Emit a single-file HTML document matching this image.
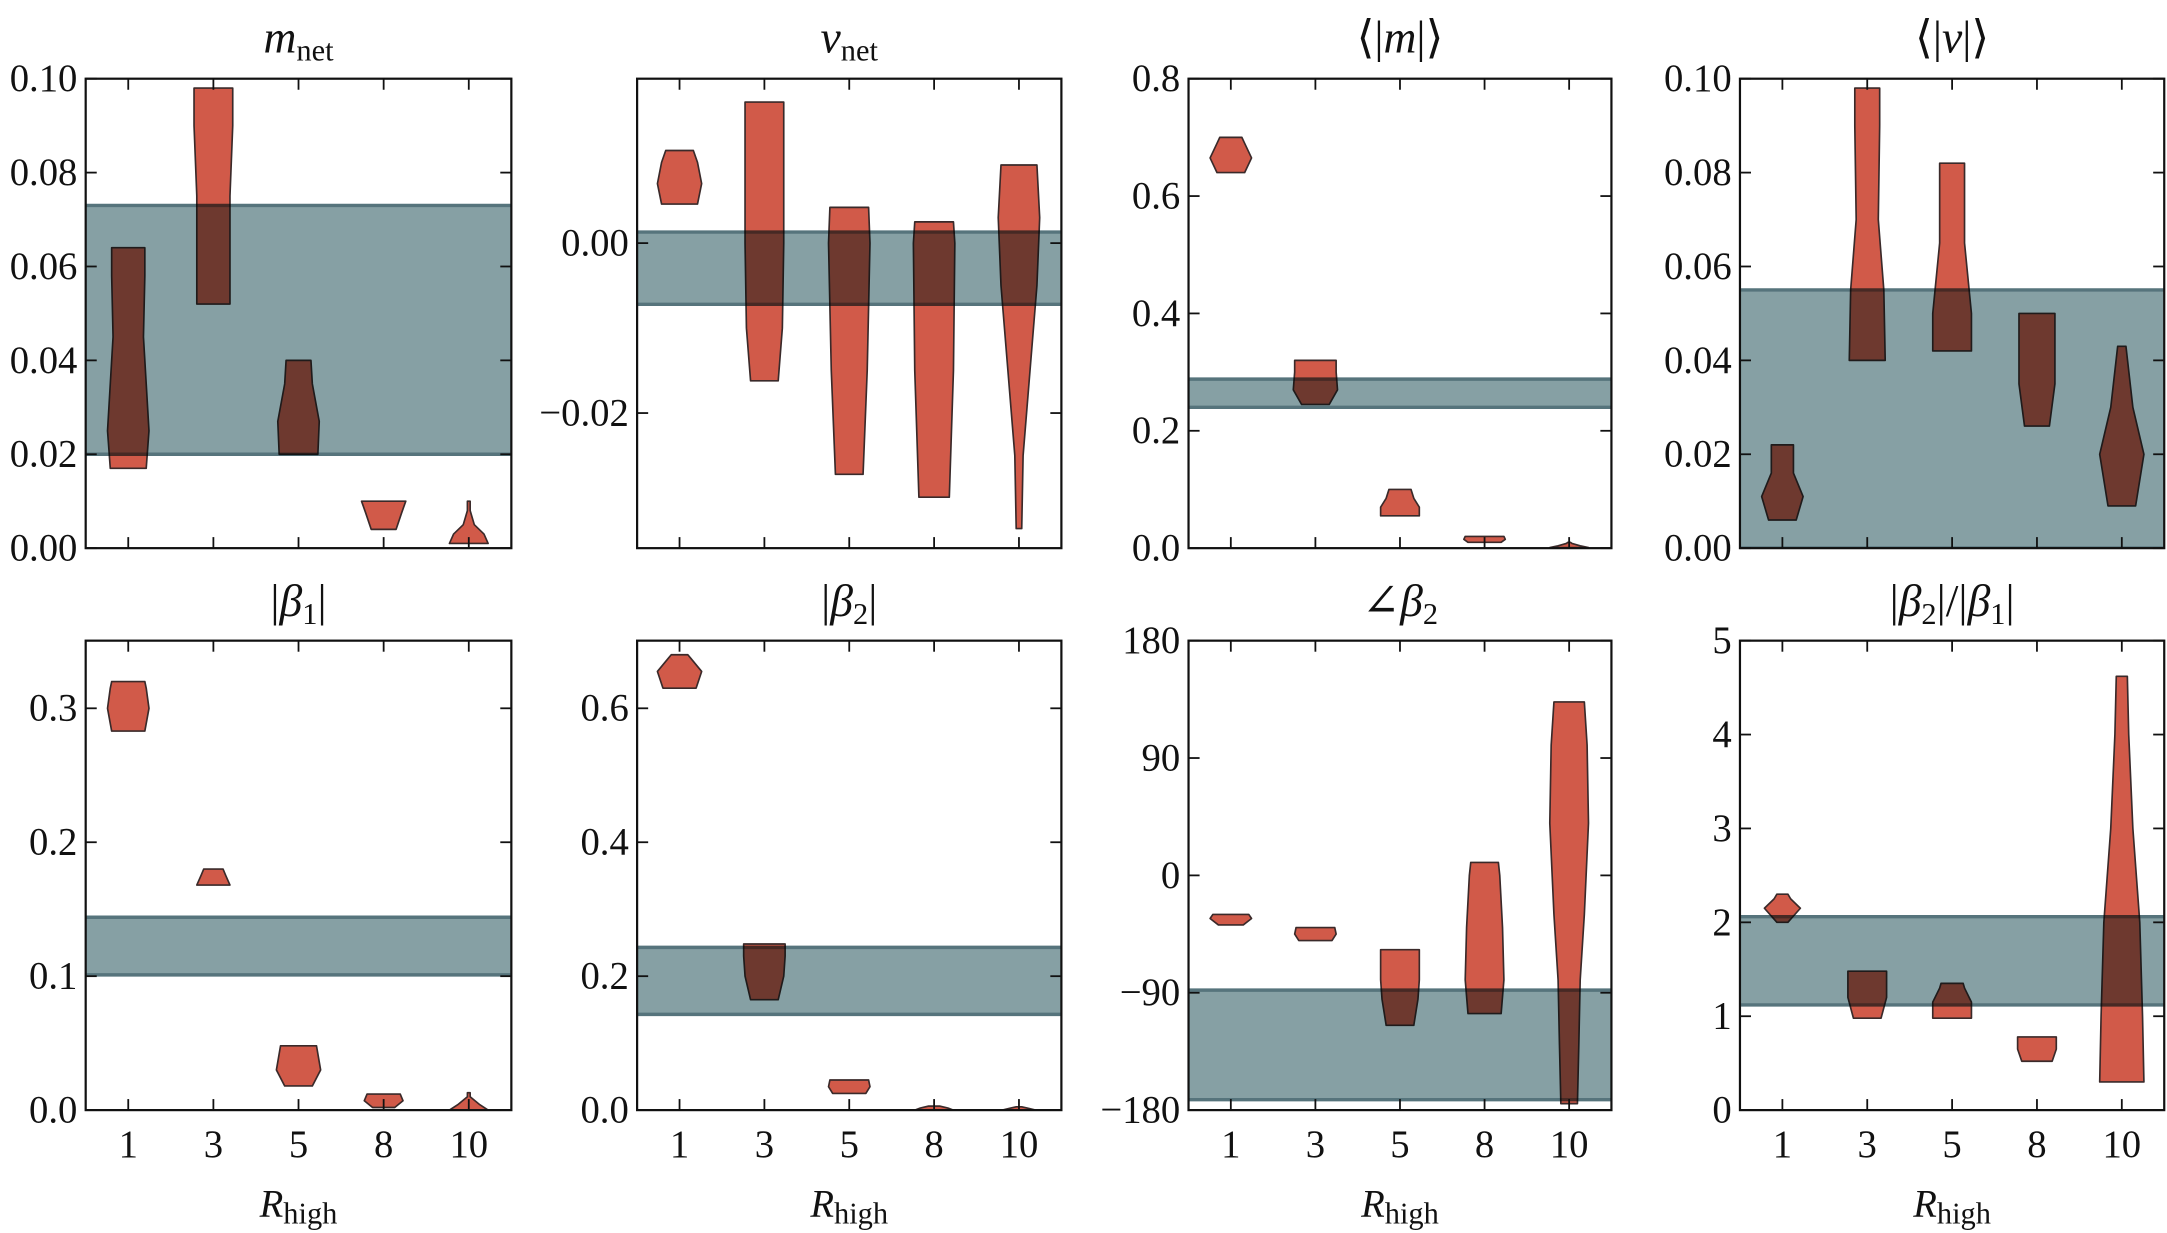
<!DOCTYPE html>
<html><head><meta charset="utf-8"><style>
html,body{margin:0;padding:0;background:#fff;}
svg{display:block;}
text{font-family:"Liberation Serif","DejaVu Serif",serif;fill:#111;}
.band{mix-blend-mode:multiply;}
</style></head><body>
<svg id="s" width="2167" height="1233" viewBox="0 0 1568 893" preserveAspectRatio="none" xmlns="http://www.w3.org/2000/svg"></svg>
<script>
var S=document.getElementById('s');var out='<rect x="0" y="0" width="1568" height="893" fill="#fff"/>';
var cols=[[62,370],[461,768],[860,1166],[1259,1566]];
var rows=[[57,397],[464,804]];
var P=[
{c:0,r:0,t:'<tspan font-style="italic">m</tspan><tspan font-size="22" dy="6">net</tspan>',lo:0,hi:0.1,ticks:[[0,'0.00'],[0.02,'0.02'],[0.04,'0.04'],[0.06,'0.06'],[0.08,'0.08'],[0.1,'0.10']],band:[0.020,0.073],
 v:[[[0.017,13],[0.025,15],[0.035,13],[0.045,11],[0.058,12],[0.064,12]],[[0.052,12],[0.075,12],[0.09,14],[0.098,14]],[[0.02,14],[0.027,15],[0.035,10],[0.04,9]],[[0.004,9],[0.0075,13],[0.010,16]],[[0.001,14],[0.003,11],[0.005,4],[0.008,1],[0.010,1]]]},
{c:1,r:0,t:'<tspan font-style="italic">v</tspan><tspan font-size="22" dy="6">net</tspan>',lo:-0.0359,hi:0.01935,ticks:[[0,'0.00'],[-0.02,'\u22120.02']],band:[-0.0072,0.0013],
 v:[[[0.0046,13],[0.007,16],[0.0095,13],[0.0109,10]],[[-0.0162,10],[-0.01,13],[0,14],[0.01,14],[0.0166,14]],[[-0.0272,10],[-0.015,13],[0,15],[0.0042,14]],[[-0.0299,11],[-0.015,14],[0,15],[0.0025,14]],[[-0.0336,2],[-0.025,3],[-0.015,8],[-0.005,13],[0.003,15],[0.0092,13]]]},
{c:2,r:0,t:'\u27E8|<tspan font-style="italic">m</tspan>|\u27E9',lo:0,hi:0.8,ticks:[[0,'0.0'],[0.2,'0.2'],[0.4,'0.4'],[0.6,'0.6'],[0.8,'0.8']],band:[0.24,0.288],
 v:[[[0.64,10],[0.665,15],[0.69,10],[0.70,8]],[[0.245,10],[0.27,16],[0.3,15],[0.32,15]],[[0.055,14],[0.07,14],[0.085,10],[0.1,8]],[[0.01,12],[0.015,15],[0.02,14]],[[0.001,14],[0.004,8],[0.008,2],[0.01,1]]]},
{c:3,r:0,t:'\u27E8|<tspan font-style="italic">v</tspan>|\u27E9',lo:0,hi:0.1,ticks:[[0,'0.00'],[0.02,'0.02'],[0.04,'0.04'],[0.06,'0.06'],[0.08,'0.08'],[0.1,'0.10']],band:[0,0.055],
 v:[[[0.006,10],[0.011,15],[0.016,8],[0.022,8]],[[0.04,13],[0.055,12],[0.07,8],[0.09,9],[0.098,9]],[[0.042,14],[0.05,14],[0.065,9],[0.082,9]],[[0.026,9],[0.035,13],[0.05,13]],[[0.009,10],[0.02,16],[0.03,8],[0.043,3]]]},
{c:0,r:1,t:'|<tspan font-style="italic">\u03B2</tspan><tspan font-size="22" dy="6">1</tspan><tspan dy="-6">|</tspan>',lo:0,hi:0.3505,ticks:[[0,'0.0'],[0.1,'0.1'],[0.2,'0.2'],[0.3,'0.3']],band:[0.101,0.144],
 v:[[[0.283,12],[0.3,15],[0.315,13],[0.32,12]],[[0.168,12],[0.175,9],[0.18,7]],[[0.018,10],[0.03,16],[0.048,13]],[[0.002,8],[0.007,14],[0.012,12]],[[0,14],[0.004,8],[0.01,1],[0.013,1]]]},
{c:1,r:1,t:'|<tspan font-style="italic">\u03B2</tspan><tspan font-size="22" dy="6">2</tspan><tspan dy="-6">|</tspan>',lo:0,hi:0.701,ticks:[[0,'0.0'],[0.2,'0.2'],[0.4,'0.4'],[0.6,'0.6']],band:[0.143,0.243],
 v:[[[0.63,12],[0.655,16],[0.675,8],[0.68,6]],[[0.165,10],[0.2,14],[0.23,15],[0.248,15]],[[0.025,12],[0.035,15],[0.045,14]],[[0,14],[0.003,10],[0.006,4]],[[0,12],[0.003,6],[0.005,2]]]},
{c:2,r:1,t:'\u2220<tspan font-style="italic">\u03B2</tspan><tspan font-size="22" dy="6">2</tspan>',lo:-180,hi:180,ticks:[[-180,'\u2212180'],[-90,'\u221290'],[0,'0'],[90,'90'],[180,'180']],band:[-172,-88],
 v:[[[-38,9],[-33,15],[-30,13]],[[-50,12],[-45,15],[-40,14]],[[-115,10],[-95,13],[-80,14],[-57,14]],[[-106,12],[-80,14],[-40,13],[0,11],[10,10]],[[-175,6],[-130,7],[-80,8],[-30,11],[40,14],[100,13],[133,11]]]},
{c:3,r:1,t:'|<tspan font-style="italic">\u03B2</tspan><tspan font-size="22" dy="6">2</tspan><tspan dy="-6">|/|</tspan><tspan font-style="italic">\u03B2</tspan><tspan font-size="22" dy="6">1</tspan><tspan dy="-6">|</tspan>',lo:0,hi:5,ticks:[[0,'0'],[1,'1'],[2,'2'],[3,'3'],[4,'4'],[5,'5']],band:[1.12,2.06],
 v:[[[2.0,4],[2.15,13],[2.25,6],[2.3,4]],[[0.98,10],[1.2,14],[1.48,14]],[[0.98,14],[1.15,14],[1.3,9],[1.35,8]],[[0.52,11],[0.65,14],[0.78,14]],[[0.3,16],[1,15],[2,13],[3,8],[4,5],[4.62,4]]]}
];
var labs=['1','3','5','8','10'];
P.forEach(function(p){
 var x0=cols[p.c][0],x1=cols[p.c][1],y0=rows[p.r][0],y1=rows[p.r][1];
 var Y=function(v){return y1-(v-p.lo)/(p.hi-p.lo)*(y1-y0);};
 var step=(x1-x0)/5;
 var cid='c'+p.c+p.r;
 out+='<clipPath id="'+cid+'"><rect x="'+x0+'" y="'+y0+'" width="'+(x1-x0)+'" height="'+(y1-y0)+'"/></clipPath><g clip-path="url(#'+cid+')">';
 p.v.forEach(function(pts,i){
  var cx=x0+step*(i+0.5);var L=[],R=[];
  pts.forEach(function(q){R.push((cx+q[1]).toFixed(1)+','+Y(q[0]).toFixed(1));L.unshift((cx-q[1]).toFixed(1)+','+Y(q[0]).toFixed(1));});
  out+='<polygon points="'+R.concat(L).join(' ')+'" fill="#d15a49" stroke="#3a2a2a" stroke-width="1.2" stroke-linejoin="round"/>';
 });
 var b0=Y(p.band[1]),b1=Y(p.band[0]);
 out+='<g class="band"><rect x="'+x0+'" y="'+b0+'" width="'+(x1-x0)+'" height="'+(b1-b0)+'" fill="#86a0a4"/>';
 out+='<line x1="'+x0+'" x2="'+x1+'" y1="'+b0+'" y2="'+b0+'" stroke="#56747c" stroke-width="2.5"/>';
 out+='<line x1="'+x0+'" x2="'+x1+'" y1="'+b1+'" y2="'+b1+'" stroke="#56747c" stroke-width="2.5"/></g>';
 out+='</g>';
 out+='<rect x="'+x0+'" y="'+y0+'" width="'+(x1-x0)+'" height="'+(y1-y0)+'" fill="none" stroke="#111" stroke-width="1.6"/>';
 for(var i=0;i<5;i++){var cx=x0+step*(i+0.5);
  out+='<line x1="'+cx+'" x2="'+cx+'" y1="'+y1+'" y2="'+(y1-8)+'" stroke="#111" stroke-width="1.3"/><line x1="'+cx+'" x2="'+cx+'" y1="'+y0+'" y2="'+(y0+8)+'" stroke="#111" stroke-width="1.3"/>';
  if(p.r==1)out+='<text x="'+cx+'" y="838" font-size="28" text-anchor="middle">'+labs[i]+'</text>';
 }
 p.ticks.forEach(function(t){var y=Y(t[0]);
  out+='<line x1="'+x0+'" x2="'+(x0+8)+'" y1="'+y+'" y2="'+y+'" stroke="#111" stroke-width="1.3"/><line x1="'+x1+'" x2="'+(x1-8)+'" y1="'+y+'" y2="'+y+'" stroke="#111" stroke-width="1.3"/>';
  out+='<text x="'+(x0-6)+'" y="'+(y+9)+'" font-size="28" text-anchor="end">'+t[1]+'</text>';
 });
 var tx=(x0+x1)/2;
 out+='<text x="'+tx+'" y="'+(p.r==0?38:446)+'" font-size="33" text-anchor="middle">'+p.t+'</text>';
 if(p.r==1)out+='<text x="'+tx+'" y="881" font-size="28" text-anchor="middle"><tspan font-style="italic">R</tspan><tspan font-size="22" dy="5">high</tspan></text>';
});
S.innerHTML=out;
</script>
</body></html>
